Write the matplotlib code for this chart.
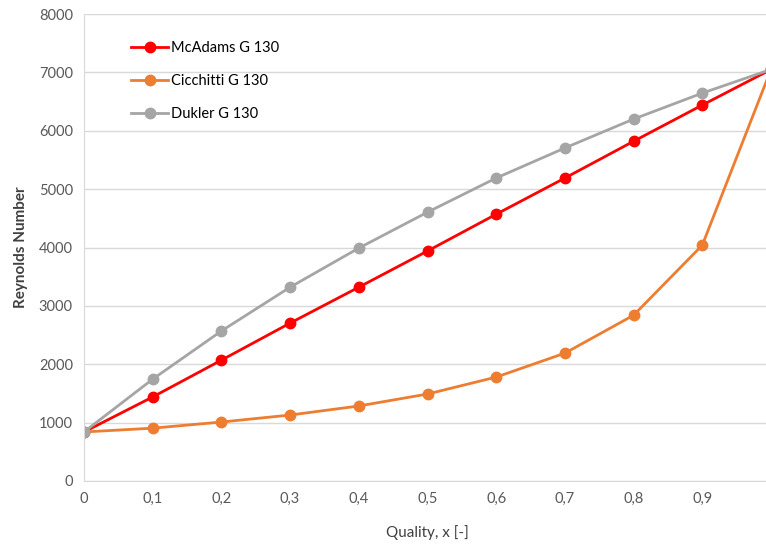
import matplotlib.pyplot as plt
from matplotlib.ticker import FixedLocator, FuncFormatter

plt.rcParams['font.family'] = ['Lato', 'DejaVu Sans']

quality = [0.0, 0.1, 0.2, 0.3, 0.4, 0.5, 0.6, 0.7, 0.8, 0.9, 1.0]
mcadams = [840, 1440, 2070, 2705, 3320, 3940, 4570, 5190, 5820, 6440, 7050]
cicchitti = [840, 905, 1010, 1130, 1285, 1490, 1780, 2190, 2840, 4040, 7050]
dukler = [840, 1745, 2570, 3320, 3990, 4605, 5190, 5705, 6200, 6645, 7050]
xticks = [0, 0.1, 0.2, 0.3, 0.4, 0.5, 0.6, 0.7, 0.8, 0.9]

fig = plt.figure(figsize=(7.66, 5.44), dpi=100)
ax = fig.add_axes([84 / 766, 1 - 481 / 544, 687 / 766, 467 / 544])

ax.plot(quality, mcadams, color='#ff0000', lw=2, marker='o', ms=7.5, label='McAdams G 130')
ax.plot(quality, cicchitti, color='#ed7d31', lw=2, marker='o', ms=7.5, label='Cicchitti G 130')
ax.plot(quality, dukler, color='#a5a5a5', lw=2, marker='o', ms=7.5, label='Dukler G 130')

ax.set_xlim(0, 1)
ax.set_ylim(0, 8000)
ax.xaxis.set_major_locator(FixedLocator(xticks))
ax.xaxis.set_major_formatter(FuncFormatter(lambda v, p: ('%g' % round(v, 1)).replace('.', ',')))
ax.set_yticks(range(0, 8001, 1000))
ax.yaxis.grid(True, color='#d9d9d9', lw=1)
ax.set_axisbelow(True)

for s in ['top', 'right']:
    ax.spines[s].set_visible(False)
for s in ['left', 'bottom']:
    ax.spines[s].set_color('#d9d9d9')
ax.tick_params(length=0, labelsize=10.5, colors='#595959', pad=8)

ax.set_xlabel('Quality, x [-]', fontsize=11, color='#404040', labelpad=14)
ax.set_ylabel('Reynolds Number', fontsize=11, color='#404040', fontweight='bold', labelpad=8)

ax.legend(loc='upper left', bbox_to_anchor=(0.05, 0.97), frameon=False, fontsize=10.5,
          handlelength=2.5, labelspacing=1.3, handletextpad=0.2)

fig.savefig('out.png', dpi=100)
